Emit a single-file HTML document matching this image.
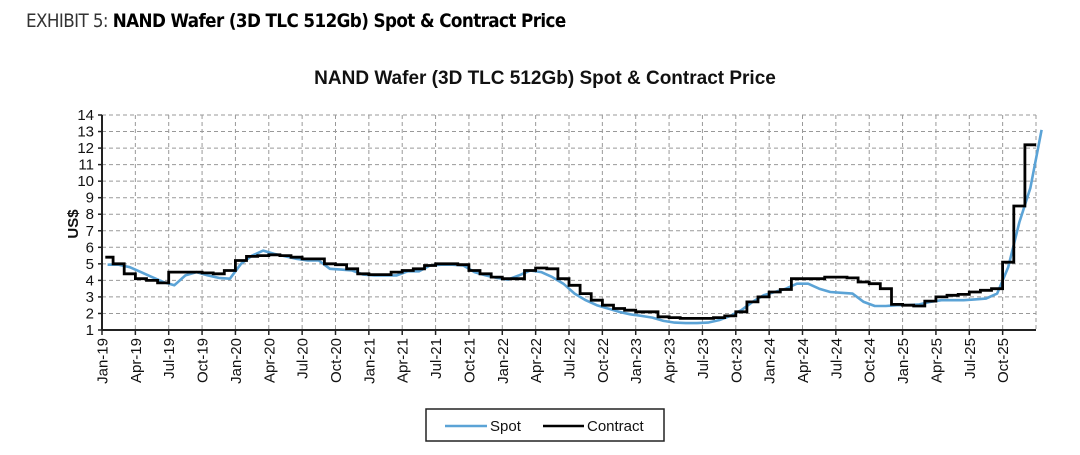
<!DOCTYPE html>
<html><head><meta charset="utf-8">
<style>
body{margin:0;background:#fff;width:1080px;height:455px;overflow:hidden;font-family:"Liberation Sans",Arial,sans-serif;}
#hdr{position:absolute;left:26px;top:10px;font-size:19px;color:#222;letter-spacing:-0.6px;font-family:"DejaVu Sans Condensed","Liberation Sans Narrow","Liberation Sans",sans-serif;transform:scaleX(0.98);transform-origin:left top;white-space:nowrap;}
#hdr b{color:#000;}
</style></head><body>
<div id="hdr"><span style="font-weight:300;color:#333">EXHIBIT 5:</span> <b>NAND Wafer (3D TLC 512Gb) Spot &amp; Contract Price</b></div>
<svg id="c" width="1080" height="455" style="position:absolute;left:0;top:0"></svg>
<script>
const yTicks=[1,2,3,4,5,6,7,8,9,10,11,12,13,14];
const quarterLabels=["Jan-19","Apr-19","Jul-19","Oct-19","Jan-20","Apr-20","Jul-20","Oct-20","Jan-21","Apr-21","Jul-21","Oct-21","Jan-22","Apr-22","Jul-22","Oct-22","Jan-23","Apr-23","Jul-23","Oct-23","Jan-24","Apr-24","Jul-24","Oct-24","Jan-25","Apr-25","Jul-25","Oct-25"];
const contract=[5.4,5.0,4.4,4.1,4.0,3.85,4.5,4.5,4.5,4.45,4.4,4.6,
5.2,5.45,5.5,5.55,5.5,5.4,5.3,5.3,5.0,4.95,4.7,4.4,
4.35,4.35,4.5,4.6,4.7,4.9,5.0,5.0,4.95,4.6,4.4,4.2,
4.1,4.1,4.6,4.75,4.7,4.1,3.7,3.2,2.8,2.5,2.3,2.2,
2.1,2.1,1.8,1.75,1.7,1.7,1.7,1.75,1.85,2.1,2.7,3.0,
3.3,3.45,4.1,4.1,4.1,4.2,4.2,4.15,3.9,3.8,3.5,2.55,
2.5,2.45,2.75,3.0,3.1,3.15,3.3,3.4,3.5,5.1,8.5,12.2];
const spot=[4.95,4.95,4.8,4.5,4.2,3.9,3.7,4.3,4.5,4.3,4.15,4.1,
5.0,5.5,5.8,5.6,5.45,5.3,5.2,5.2,4.7,4.65,4.6,4.35,
4.3,4.3,4.3,4.55,4.55,4.9,4.95,4.95,4.9,4.5,4.3,4.15,
4.05,4.3,4.6,4.5,4.2,3.8,3.2,2.8,2.5,2.3,2.1,1.95,
1.85,1.75,1.55,1.45,1.42,1.42,1.45,1.6,1.85,2.2,2.7,3.1,
3.3,3.5,3.8,3.8,3.5,3.3,3.25,3.2,2.7,2.45,2.45,2.5,
2.5,2.55,2.7,2.8,2.8,2.8,2.85,2.9,3.2,4.8,7.5,9.6,13.1];

const svg=document.getElementById('c');const NS='http://www.w3.org/2000/svg';
const X0=102,X1=1036,Y0=330,Y1=115,NM=84;
const xs=m=>X0+(X1-X0)*m/NM;
const ys=v=>Y0-(v-1)/(14-1)*(Y0-Y1);
function mk(t,a,p){const e=document.createElementNS(NS,t);for(const k in a)e.setAttribute(k,a[k]);(p||svg).appendChild(e);return e;}

const title=mk('text',{x:545,y:84,'text-anchor':'middle','font-size':19,'font-weight':'bold',fill:'#111'});
title.textContent='NAND Wafer (3D TLC 512Gb) Spot & Contract Price';



const grid=mk('g',{stroke:'#999','stroke-width':1,'stroke-dasharray':'4,3'});


yTicks.forEach(v=>{if(v>1)mk('line',{x1:X0,x2:X1,y1:ys(v),y2:ys(v)},grid);});
quarterLabels.forEach((l,i)=>{if(i>0)mk('line',{x1:xs(i*3),x2:xs(i*3),y1:Y1,y2:Y0},grid);});
mk('line',{x1:X1,x2:X1,y1:Y1,y2:Y0},grid);

yTicks.forEach(v=>{
 const t=mk('text',{x:X0-8,y:ys(v)+5,'text-anchor':'end','font-size':15,fill:'#111'});t.textContent=v;
 
 
 mk('line',{x1:X0-4,x2:X0,y1:ys(v),y2:ys(v),stroke:'#222','stroke-width':1.5});
});
quarterLabels.forEach((l,i)=>{
 const x=xs(i*3);
 mk('line',{x1:x,x2:x,y1:Y0,y2:Y0+5,stroke:'#222','stroke-width':1.5});
 const t=mk('text',{x:0,y:0,transform:`translate(${x+5.5},${Y0+8}) rotate(-90)`,'text-anchor':'end','font-size':15,fill:'#111'});t.textContent=l;
 
 
});
const yl=mk('text',{x:0,y:0,transform:'translate(78,224) rotate(-90)','text-anchor':'middle','font-size':15,'font-weight':'bold',fill:'#111'});yl.textContent='US$';



let sp='';spot.forEach((v,i)=>{sp+=(i?'L':'M')+xs(i+0.5).toFixed(1)+','+ys(v).toFixed(1);});
const sl=mk('path',{d:sp,fill:'none',stroke:'#5ba3d6','stroke-width':2.6,'stroke-linejoin':'round'});



let cp='';contract.forEach((v,i)=>{cp+=(i?'L'+xs(i).toFixed(1)+','+ys(v).toFixed(1):'M'+xs(0.3).toFixed(1)+','+ys(v).toFixed(1))+'L'+xs(i+1).toFixed(1)+','+ys(v).toFixed(1);});
const cl=mk('path',{d:cp,fill:'none',stroke:'#000','stroke-width':2.8});



mk('line',{x1:X0,x2:X0,y1:Y1,y2:Y0,stroke:'#222','stroke-width':2});
mk('line',{x1:X0,x2:X1,y1:Y0,y2:Y0,stroke:'#222','stroke-width':2});

const lg=mk('g',{});


mk('rect',{x:426,y:409,width:238,height:32,fill:'#fff',stroke:'#222','stroke-width':1.5},lg);
mk('line',{x1:445,x2:487,y1:426,y2:426,stroke:'#5ba3d6','stroke-width':2.5},lg);
const t1=mk('text',{x:490,y:431,'font-size':15,fill:'#111'},lg);t1.textContent='Spot';


mk('line',{x1:543,x2:584,y1:426,y2:426,stroke:'#000','stroke-width':2.5},lg);
const t2=mk('text',{x:587,y:431,'font-size':15,fill:'#111'},lg);t2.textContent='Contract';


</script>
</body></html>
